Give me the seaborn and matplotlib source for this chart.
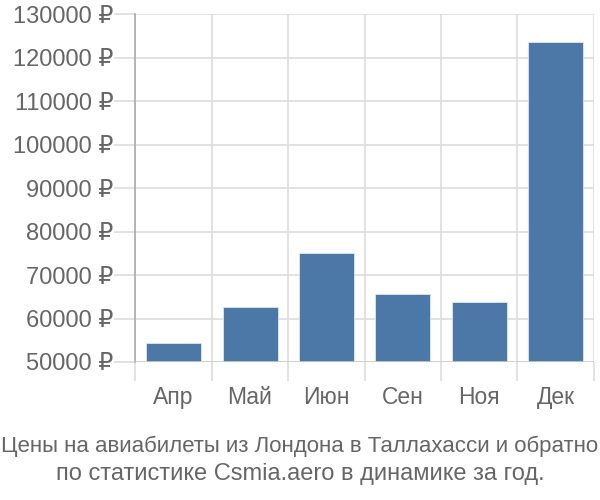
import matplotlib
matplotlib.use("Agg")
import matplotlib.pyplot as plt
import seaborn as sns
import pandas as pd
from matplotlib.ticker import FixedLocator, FuncFormatter

months = ["Апр", "Май", "Июн", "Сен", "Ноя", "Дек"]
prices = [54300, 62600, 75000, 65600, 63800, 123700]
yticks = [50000, 60000, 70000, 80000, 90000, 100000, 110000, 120000, 130000]
caption_lines = ["Цены на авиабилеты из Лондона в Таллахасси и обратно",
                 "по статистике Csmia.aero в динамике за год."]

sns.set_theme(style="white")
plt.rcParams["font.family"] = ["Liberation Sans", "DejaVu Sans"]

df = pd.DataFrame({"month": months, "price": prices})

fig = plt.figure(figsize=(6, 5), dpi=100)
ax = fig.add_axes([0.2258, 0.276, 0.7637, 0.6954])

sns.barplot(data=df, x="month", y="price", color="#4c78a8", saturation=1,
            width=0.72, edgecolor="#dfe7f0", linewidth=0.6, ax=ax, zorder=3)

ax.set_xlim(-0.5, len(months) - 0.5)
ax.set_ylim(50000, 130000)
ax.yaxis.set_major_locator(FixedLocator(yticks))
ax.yaxis.set_major_formatter(FuncFormatter(lambda v, p: f"{int(v)} ₽"))
ax.xaxis.set_minor_locator(FixedLocator([i - 0.5 for i in range(len(months) + 1)]))

ax.grid(True, axis="y", which="major", color="#dddddd", linewidth=1.2, zorder=0)
ax.grid(True, axis="x", which="minor", color="#dddddd", linewidth=1.2, zorder=0)
ax.set_axisbelow(True)

for s in ["top", "right", "bottom"]:
    ax.spines[s].set_visible(False)
ax.spines["left"].set_color("#aaaaaa")
ax.spines["left"].set_linewidth(1.2)

ax.tick_params(axis="y", which="major", length=15, width=1.2, color="#dddddd",
               pad=1, labelsize=17, labelcolor="#666666", left=True)
ax.tick_params(axis="x", which="major", length=0, pad=17, labelsize=16.5,
               labelcolor="#666666")
ax.tick_params(axis="x", which="minor", length=14, width=1.2, color="#dddddd",
               bottom=True)
ax.xaxis.get_minor_ticks()[0].tick1line.set_color("#aaaaaa")

ax.axhline(50000, color="#cccccc", linewidth=1.2, zorder=4)

ax.set_xlabel("")
ax.set_ylabel("")

fig.text(0.5, 1 - 446 / 500, caption_lines[0], ha="center", va="center",
         fontsize=16, color="#666666")
fig.text(0.5, 1 - 474 / 500, caption_lines[1], ha="center", va="center",
         fontsize=17, color="#666666")

fig.savefig("out.png", dpi=100)
